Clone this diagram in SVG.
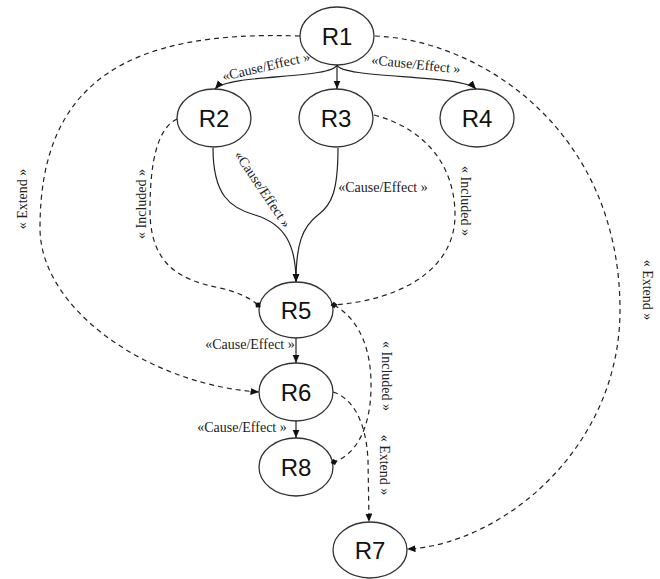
<svg xmlns="http://www.w3.org/2000/svg" width="660" height="579" viewBox="0 0 660 579">
  <style>
    .node ellipse { fill: #ffffff; stroke: #333333; stroke-width: 1.3; }
    .node text { font-family: "Liberation Sans", Arial, sans-serif; font-size: 24px; fill: #111111; text-anchor: middle; }
    .edge { fill: none; stroke: #222222; stroke-width: 1.2; }
    .solid { marker-end: url(#arrow); }
    .dash { stroke-dasharray: 5 4; }
    .ext { marker-end: url(#arrow); }
    .inc { marker-end: url(#diamond); }
    .lbl { font-family: "Liberation Serif", "Times New Roman", serif; font-size: 14px; fill: #222222; text-anchor: middle; }
  </style>
  <defs>
    <marker id="arrow" markerUnits="userSpaceOnUse" markerWidth="9" markerHeight="8" refX="8.5" refY="3.5" orient="auto">
      <path d="M0,0 L8.5,3.5 L0,7 z" fill="#111111"/>
    </marker>
    <marker id="diamond" markerUnits="userSpaceOnUse" markerWidth="8" markerHeight="8" refX="4" refY="4" orient="auto">
      <path d="M0.5,4 L4,0.8 L7.5,4 L4,7.2 z" fill="#111111"/>
    </marker>
  </defs>

  <rect width="660" height="579" fill="#ffffff"/>

  <!-- nodes -->
  <g id="R1" class="node"><ellipse cx="337" cy="36" rx="37" ry="29"/><text x="337" y="44.5">R1</text></g>
  <g id="R2" class="node"><ellipse cx="214" cy="118" rx="37" ry="29"/><text x="214" y="126.5">R2</text></g>
  <g id="R3" class="node"><ellipse cx="336" cy="118" rx="37" ry="29"/><text x="336" y="126.5">R3</text></g>
  <g id="R4" class="node"><ellipse cx="477" cy="118" rx="37" ry="29"/><text x="477" y="126.5">R4</text></g>
  <g id="R5" class="node"><ellipse cx="296" cy="310" rx="37" ry="28"/><text x="296" y="318.5">R5</text></g>
  <g id="R6" class="node"><ellipse cx="296" cy="392" rx="37" ry="29"/><text x="296" y="400.5">R6</text></g>
  <g id="R8" class="node"><ellipse cx="296" cy="467" rx="37" ry="29"/><text x="296" y="475.5">R8</text></g>
  <g id="R7" class="node"><ellipse cx="370" cy="550" rx="37" ry="28"/><text x="370" y="558.5">R7</text></g>

  <!-- connectors, drawn above the nodes so the end markers sit on the outlines -->
  <g id="connectors">
    <!-- cause/effect (solid) -->
    <path class="edge solid" d="M337,65 C332,79 228,74 215,89"/>
    <path class="edge solid" d="M337,65 L337,89"/>
    <path class="edge solid" d="M337,65 C342,79 462,74 476,89"/>
    <path class="edge solid" d="M213,148 C213,195 230,208 255,215 C285,224 296,245 296,282"/>
    <path class="edge solid" d="M338,148 C338,190 332,205 318,215 C302,227 296,245 296,282"/>
    <path class="edge solid" d="M296,338 L296,363"/>
    <path class="edge solid" d="M296,421 L296,438"/>

    <!-- extend (dashed, arrow) -->
    <path class="edge dash ext" d="M300,36 C130,30 40,80 40,228 C40,310 150,385 259,392"/>
    <path class="edge dash ext" d="M375,36 C480,40 620,130 620,310 C620,450 500,545 407,549"/>
    <path class="edge dash ext" d="M333,392 C352,398 366,420 368,460 L369,522"/>

    <!-- included (dashed, diamond) -->
    <path class="edge dash inc" d="M177,119 C158,128 150,160 150,210 C150,265 180,280 220,288 C238,292 250,298 258,305"/>
    <path class="edge dash inc" d="M374,115 C430,130 455,170 455,215 C455,270 400,300 334,305"/>
    <path class="edge dash inc" d="M334,305 C360,320 372,350 371,390 C370,430 355,455 334,462"/>

    <!-- labels -->
    <text class="lbl" transform="translate(266,66) rotate(-13)" dy="0.35em">«Cause/Effect »</text>
    <text class="lbl" transform="translate(416,64) rotate(6)" dy="0.35em">«Cause/Effect »</text>
    <text class="lbl" transform="translate(263,189) rotate(56)" dy="0.35em">«Cause/Effect »</text>
    <text class="lbl" x="383" y="192">«Cause/Effect »</text>
    <text class="lbl" x="250" y="349">«Cause/Effect »</text>
    <text class="lbl" x="242" y="432">«Cause/Effect »</text>
    <text class="lbl" transform="translate(22,199) rotate(-90)" dy="0.35em">« Extend »</text>
    <text class="lbl" transform="translate(141,204) rotate(-90)" dy="0.35em">« Included »</text>
    <text class="lbl" transform="translate(466,201) rotate(90)" dy="0.35em">« Included »</text>
    <text class="lbl" transform="translate(648,290) rotate(90)" dy="0.35em">« Extend »</text>
    <text class="lbl" transform="translate(387,376) rotate(90)" dy="0.35em">« Included »</text>
    <text class="lbl" transform="translate(385,465) rotate(90)" dy="0.35em">« Extend »</text>
  </g>
</svg>
